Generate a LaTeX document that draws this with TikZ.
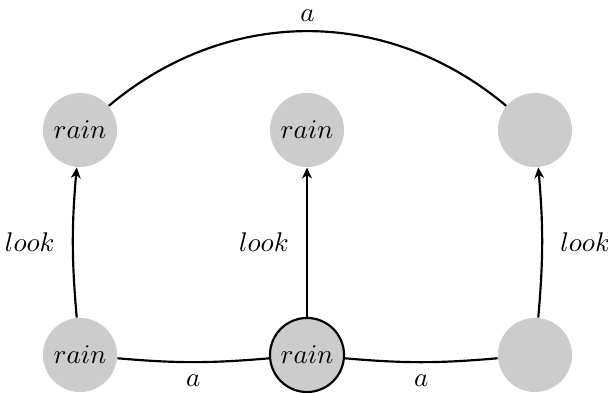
\documentclass[tikz,border=0pt]{standalone}
\usetikzlibrary{arrows.meta}
\begin{document}
\begin{tikzpicture}[x=0.37pt,y=-0.37pt,
  state/.style={circle,fill=gray!40,minimum size=27.4pt,inner sep=0pt},
  cur/.style={state,draw=black,thick},
  edge/.style={thick},
  arr/.style={thick,-{Stealth[length=4pt,width=3.6pt,inset=1.2pt]}}]
\useasboundingbox (0,0) rectangle (608,393);
\node[state] (t1) at (80,130) {$rain$};
\node[state] (t2) at (307,130) {$rain$};
\node[state] (t3) at (535,130) {};
\node[state] (b1) at (80,355) {$rain$};
\node[cur]   (b2) at (307,355) {$rain$};
\node[state] (b3) at (535,355) {};
\draw[arr] (b1) to[bend left=5] node[midway,left=3pt] {$look$} (t1);
\draw[arr] (b2) -- node[midway,left=3pt] {$look$} (t2);
\draw[arr] (b3) to[bend right=5] node[midway,right=3pt] {$look$} (t3);
\draw[edge] (t1) to[bend left=40] node[midway,above=0pt] {$a$} (t3);
\draw[edge] (b1) to[bend right=5] node[midway,below=1pt] {$a$} (b2);
\draw[edge] (b2) to[bend right=5] node[midway,below=1pt] {$a$} (b3);
\end{tikzpicture}
\end{document}
